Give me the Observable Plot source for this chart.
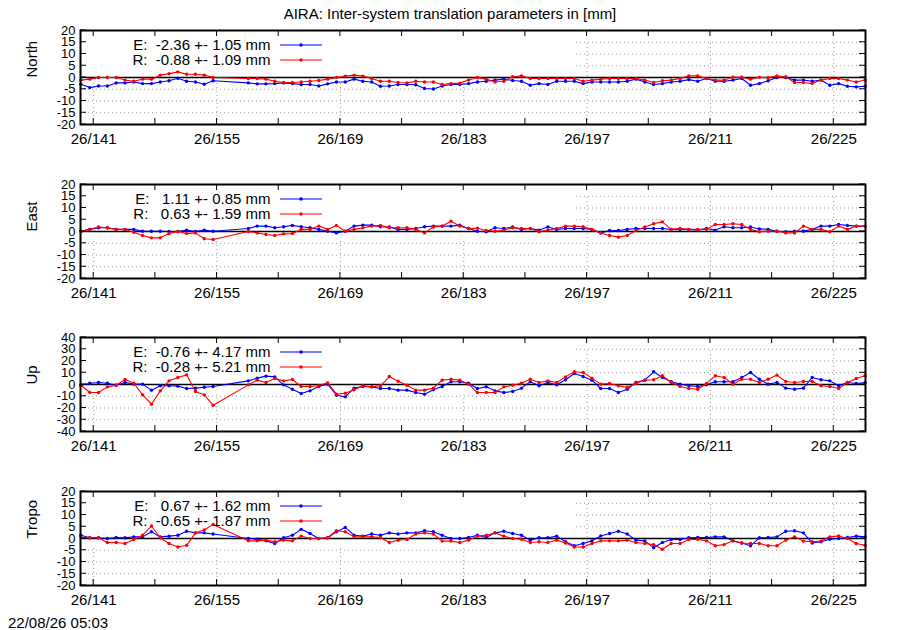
<!DOCTYPE html>
<html><head><meta charset="utf-8">
<script src="https://cdn.jsdelivr.net/npm/d3@7"></script>
<script src="https://cdn.jsdelivr.net/npm/@observablehq/plot@0.6"></script>
<style>
body{margin:0;background:#fff;}
#chart{position:relative;width:900px;height:630px;font-family:"Liberation Sans",Arial,sans-serif;color:#000;background:#fff;}
#chart svg text{white-space:pre;}
.title{position:absolute;left:0;width:900px;top:5px;text-align:center;font-size:15px;line-height:18px;z-index:2;}
.stamp{position:absolute;left:8px;top:614px;font-size:15px;line-height:18px;z-index:2;}
.panel{position:absolute;left:0;z-index:1;}
</style></head><body><div id="chart"></div>
<script>
// Day of year (2026) of each daily solution
const days = [139,140,141,142,143,144,145,146,147,148,149,150,151,152,153,154,
  158,159,160,161,162,163,164,165,166,167,168,169,170,171,172,173,174,175,176,177,178,179,180,181,182,183,184,
  185,186,187,188,189,190,191,192,193,194,195,196,197,198,199,200,201,202,203,204,205,206,207,208,209,210,211,212,213,214,215,216,217,218,219,220,221,222,223,224,225,226,227,228];

const northE = [-2.9,-4.3,-3.6,-3.6,-2.3,-2.3,-1.9,-2.6,-2.6,-1.9,-1.4,-0.3,-1.6,-1.9,-2.9,-1.4,
  -2.3,-2.7,-2.7,-2.6,-2.3,-2.6,-3.0,-3.0,-3.6,-2.7,-1.9,-1.9,-0.7,-1.6,-1.9,-3.7,-3.6,-3.0,-3.0,-3.1,-4.7,-4.9,-3.6,-3.0,-3.0,-2.6,-1.9,
  -1.6,-1.1,-0.7,-1.3,-1.6,-3.3,-2.6,-3.0,-1.6,-1.6,-1.6,-2.6,-1.9,-1.9,-1.9,-1.9,-1.6,-0.7,-1.9,-3.0,-2.6,-1.9,-1.6,-0.9,-1.6,-0.4,-1.6,-1.6,-1.1,-0.4,-3.3,-2.6,-1.4,0,0,-1.1,-1.1,-1.6,-1.1,-3.3,-2.6,-3.7,-4.0,-3.7];
const northR = [-1.1,-0.7,0,0,0,-1.1,-1.6,-0.7,-0.7,1.0,1.6,2.4,1.4,1.4,1.0,0,
  -0.4,-0.4,-0.7,-1.6,-2.1,-2.1,-1.9,-1.6,-1.3,-0.7,0,0.6,1.0,0.6,-0.4,-1.6,-1.6,-2.1,-2.3,-1.6,-1.9,-1.9,-3.0,-2.6,-2.4,-1.1,0,
  -0.7,-1.9,-1.6,0.3,0.7,-0.4,-0.4,-0.4,-0.4,-0.4,-0.4,-1.6,-1.1,-0.7,-0.4,-0.4,-0.4,-0.4,-1.1,-2.1,-1.4,-1.1,-0.4,0.7,0.7,-0.4,-1.1,-1.1,0.1,0.1,-0.7,0.1,-0.1,0.7,0.3,-2.1,-2.1,-2.6,-1.1,-0.4,-0.4,-1.1,-1.9,-1.1];

const eastE = [0.1,0.9,1.6,1.6,0.9,0.9,0.9,0.1,0.1,0.1,0,0,0.6,0,0.6,0.1,
  1.3,2.3,2.3,1.6,2.0,2.6,2.0,1.6,0.9,0.1,-0.6,0.1,2.3,2.7,2.7,2.0,1.9,0.9,0.9,1.3,2.0,2.3,2.3,2.3,2.7,1.3,0.1,
  -0.1,1.6,1.3,1.9,0.9,1.3,0.6,1.9,0.9,1.3,1.3,1.3,0.9,-0.6,0.4,0.4,0.9,1.3,1.3,1.3,1.3,0.9,0.9,0.9,0.6,1.3,0.6,2.0,1.6,1.6,1.9,1.1,0.9,0.1,-0.1,0.1,0.1,0.9,2.3,2.3,3.0,2.6,2.3,2.3];
const eastR = [0.1,0.9,1.9,1.6,0.9,0.9,-0.3,-1.7,-2.7,-2.7,-0.9,0,-0.9,-0.6,-3.1,-3.4,
  0,-0.6,-1.3,-1.7,-1.0,-0.9,0.9,0.9,2.3,0.9,2.6,0.1,0.9,1.6,2.3,2.6,1.6,1.6,1.6,0.9,-0.6,1.9,2.3,4.4,2.3,1.3,1.4,
  0.4,0.1,0.6,1.6,1.3,1.3,-0.1,0.6,1.3,2.3,2.3,2.0,0.9,-0.6,-1.7,-2.4,-1.7,0.4,1.9,3.3,4.1,0.9,1.3,0.9,0.9,0.9,3.0,3.0,3.3,3.0,0.9,-0.1,0.1,0.1,-0.6,-0.6,2.3,0.9,0.9,-0.1,2.3,0.9,2.3,2.3];

const upE = [-0.6,1.1,1.7,1.1,-0.6,1.7,0.3,0.3,-4.8,-1.1,-1.1,-1.4,-3.4,-3.1,-2.3,-1.7,
  3.1,5.4,7.1,6.5,-0.3,-4.0,-7.7,-5.4,-1.7,0.3,-9.1,-10.5,-3.1,-1.7,-2.0,-3.4,-3.4,-4.8,-4.8,-6.8,-8.2,-4.5,-1.7,2.3,2.3,1.1,-3.4,
  -2.0,-5.4,-6.8,-6.0,-3.1,2.3,-1.1,1.7,-0.3,4.0,9.4,6.8,3.7,-3.4,-3.4,-6.8,-4.0,1.7,3.7,10.8,6.0,2.3,0.3,-1.1,-1.7,-0.3,2.3,2.3,2.3,6.0,10.2,4.5,0.3,1.7,-3.1,-4.0,-3.1,6.0,4.0,3.1,-1.1,1.7,0.9,1.7];
const upR = [-0.6,-6.8,-6.8,-2.0,-0.6,4.3,1.1,-8.8,-16.8,-5.4,3.1,6.0,8.2,-6.0,-8.8,-17.6,
  -0.3,3.7,1.7,5.1,3.1,4.3,-1.7,-1.7,-1.1,1.4,-8.2,-7.4,-4.5,-1.1,-2.0,-1.1,6.8,2.8,-0.6,-4.8,-4.8,-3.1,3.7,4.5,3.7,0.3,-6.8,
  -6.8,-6.8,-2.0,-0.6,1.1,4.5,1.7,3.1,1.7,6.5,10.8,10.2,5.4,0.3,0.9,-1.1,-2.6,1.1,3.7,4.0,7.4,1.7,-1.7,-3.4,-4.0,0.9,7.4,6.0,0.3,4.5,4.5,1.7,4.5,8.0,2.6,1.7,2.6,2.6,-1.1,-1.7,-3.4,1.7,5.1,7.4];

const tropoE = [1.4,0.3,0.3,0,0.4,0.3,0.7,0.7,2.9,0.7,1.0,1.4,3.1,2.4,2.4,1.9,
  0,-0.3,-1.0,-2.1,0.3,1.4,3.9,2.1,0,0.3,2.9,4.7,1.4,1.0,1.9,1.4,2.4,1.9,2.4,2.4,3.3,2.9,1.4,0,0,0.4,1.4,
  0.4,2.4,3.1,2.1,1.4,-0.7,0.3,0.3,1.0,-1.4,-3.1,-2.1,-1.0,1.1,2.1,3.1,1.9,-0.7,-1.0,-3.9,-1.7,-0.4,-0.4,0.3,0.4,0.4,0.7,0.7,-1.0,-1.9,-3.1,0.3,0.4,0.7,3.1,3.3,2.4,-1.9,-1.4,-0.3,0,0.4,1.0,0.7];
const tropoR = [0.4,0.3,0.3,-1.7,-1.7,-2.1,-0.4,1.4,5.3,0.3,-2.1,-3.6,-2.9,2.4,3.6,6.0,
  -1.0,-1.0,-0.7,-1.4,-0.7,-1.0,1.0,0,0,0.3,3.3,2.9,0.7,0.7,0.7,0.4,-1.7,-0.7,-0.4,1.9,2.4,1.9,-1.1,-1.1,-1.7,-0.7,1.0,
  1.4,2.4,1.0,0,-0.3,-1.7,-1.4,-1.7,-0.7,-1.9,-3.6,-3.6,-2.1,-1.0,-1.0,-1.0,-0.7,-1.7,-2.1,-2.6,-4.6,-2.1,-2.1,-0.4,-0.3,-1.0,-3.1,-2.6,-1.0,-1.9,-2.1,-2.1,-3.1,-3.1,-0.7,0.7,-1.1,-1.4,-1.1,0.7,1.1,0,-2.1,-2.9];

const panelNames = ["North","East","Up","Tropo"];
const legendE = ["E:  -2.36 +- 1.05 mm","E:   1.11 +- 0.85 mm","E:  -0.76 +- 4.17 mm","E:   0.67 +- 1.62 mm"];
const legendR = ["R:  -0.88 +- 1.09 mm","R:   0.63 +- 1.59 mm","R:  -0.28 +- 5.21 mm","R:  -0.65 +- 1.87 mm"];
const seriesE = [northE, eastE, upE, tropoE];
const seriesR = [northR, eastR, upR, tropoR];
const yTicks20 = [-20,-15,-10,-5,0,5,10,15,20];
const yTicks40 = [-40,-30,-20,-10,0,10,20,30,40];
const xLabelTicks = [141,155,169,183,197,211,225];
const xAllTicks = [141,148,155,162,169,176,183,190,197,204,211,218,225];
const title = "AIRA: Inter-system translation parameters in [mm]";
const stamp = "22/08/26 05:03";

// layout
const panelTops = [0,154,307,461];
const keyBottoms = [-2.5,-4,-9,-4];
const keyRight = 195.5;
const xDomain = [139.5, 228.6];
const dayOffset = 0.55;
const font = "'Liberation Sans', Arial, sans-serif";

const chart = document.getElementById("chart");

panelNames.forEach((name, i) => {
  const yt = i === 2 ? yTicks40 : yTicks20;
  const ymax = yt[yt.length-1], step = yt[1]-yt[0];
  const grid = yt.filter(v => v !== 0 && Math.abs(v) !== ymax);
  const dE = days.map((d,k) => ({x: d + dayOffset, v: seriesE[i][k]}));
  const dR = days.map((d,k) => ({x: d + dayOffset, v: seriesR[i][k]}));
  const gridStyle = {stroke:"#9a9a9a", strokeWidth:1, strokeDasharray:"1,3"};
  const plot = Plot.plot({
    width:900, height:154, marginLeft:80, marginRight:35, marginTop:30, marginBottom:30,
    style:{fontFamily:font, fontSize:"15px", color:"black", background:"transparent", overflow:"visible"},
    x:{domain:xDomain},
    y:{domain:[-ymax, ymax]},
    marks:[
      Plot.ruleY(grid, gridStyle),
      Plot.ruleX(xLabelTicks, {y1:-ymax, y2:ymax-step, ...gridStyle}),
      Plot.rect([{x1:xDomain[0], x2:keyRight, y1:keyBottoms[i], y2:ymax}], {x1:"x1", x2:"x2", y1:"y1", y2:"y2", fill:"white"}),
      Plot.ruleY([0], {stroke:"black", strokeWidth:1.6}),
      Plot.line(dE, {x:"x", y:"v", stroke:"#0000ff", strokeWidth:1.1}),
      Plot.dot(dE, {x:"x", y:"v", r:1.7, fill:"#0000ff"}),
      Plot.line(dR, {x:"x", y:"v", stroke:"#ff0000", strokeWidth:1.1}),
      Plot.dot(dR, {x:"x", y:"v", r:1.7, fill:"#ff0000"}),
      Plot.axisX({ticks:xLabelTicks, tickSize:0, tickPadding:9, tickFormat:d => "26/" + d, label:null}),
      Plot.axisY({ticks:yt, tickSize:0, tickPadding:5, tickFormat:d => String(d), label:null, fontSize:13}),
      Plot.text([legendE[i]], {text:d => d, frameAnchor:"top-left", dx:190, dy:15, textAnchor:"end", lineAnchor:"middle"}),
      Plot.text([legendR[i]], {text:d => d, frameAnchor:"top-left", dx:190, dy:30, textAnchor:"end", lineAnchor:"middle"}),
      Plot.text([name], {text:d => d, frameAnchor:"left", dx:-48, rotate:-90}),
      Plot.frame({stroke:"black", strokeWidth:2})
    ]
  });
  const sx = plot.scale("x"), sy = plot.scale("y");
  const [yb, ytop] = sy.range;
  const [xl, xr] = sx.range;
  const g = d3.select(plot).append("g").attr("stroke","black").attr("stroke-width",1);
  xAllTicks.forEach(v => {
    const x = sx.apply(v);
    g.append("line").attr("x1",x).attr("x2",x).attr("y1",yb).attr("y2",yb-6);
    g.append("line").attr("x1",x).attr("x2",x).attr("y1",ytop).attr("y2",ytop+6);
  });
  yt.forEach(v => {
    const y = sy.apply(v);
    g.append("line").attr("x1",xl).attr("x2",xl+6).attr("y1",y).attr("y2",y);
    g.append("line").attr("x1",xr).attr("x2",xr-6).attr("y1",y).attr("y2",y);
  });
  const lg = d3.select(plot).append("g");
  [["#0000ff",15],["#ff0000",30]].forEach(([c,dy]) => {
    const y = ytop + dy;
    lg.append("line").attr("x1",xl+200).attr("x2",xl+242).attr("y1",y).attr("y2",y).attr("stroke",c).attr("stroke-width",1.1);
    lg.append("circle").attr("cx",xl+221).attr("cy",y).attr("r",1.7).attr("fill",c);
  });
  const wrap = document.createElement("div");
  wrap.className = "panel"; wrap.style.top = panelTops[i] + "px";
  wrap.appendChild(plot);
  chart.appendChild(wrap);
});
const t = document.createElement("div"); t.className = "title"; t.textContent = title; chart.appendChild(t);
const s = document.createElement("div"); s.className = "stamp"; s.textContent = stamp; chart.appendChild(s);
</script>
</body></html>
